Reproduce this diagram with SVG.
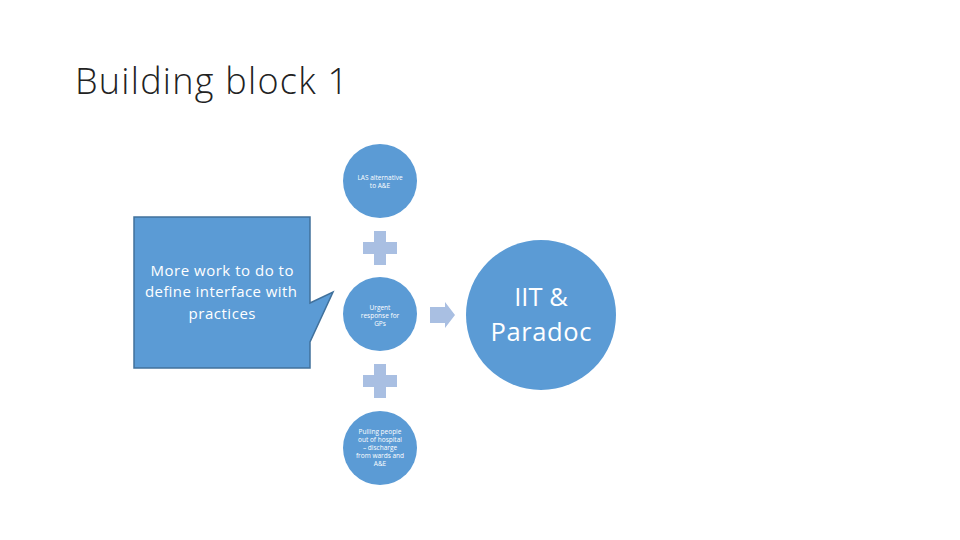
<svg xmlns="http://www.w3.org/2000/svg" width="960" height="540" viewBox="0 0 960 540">
<style>
.node{fill:#5B9BD5;}
.plus{fill:#A9BFE2;}
.t{font-family:"Open Sans","Liberation Sans",sans-serif;fill:#fff;text-anchor:middle;}
.s{font-size:6.5px;}
.c{font-size:15px;}
.b{font-size:25.5px;}
</style>
<rect width="960" height="540" fill="#fff"/>
<text x="75" y="94" font-family="'Open Sans','Liberation Sans',sans-serif" font-weight="300" font-size="36" fill="#222" textLength="273">Building block 1</text>
<g id="connectors">
<path class="plus" d="M374,231h12v11h11v12h-11v11h-12v-11h-11v-12h11z"/>
<path class="plus" d="M374,364h12v11h11v12h-11v11h-12v-11h-11v-12h11z"/>
<path class="plus" d="M430,307h15v-5l10,13l-10,13v-5h-15z"/>
</g>
<g id="n1">
<circle class="node" cx="380" cy="181" r="37"/>
<text class="t s" x="380" y="180">LAS alternative</text>
<text class="t s" x="380" y="188">to A&amp;E</text>
</g>
<g id="n2">
<circle class="node" cx="380" cy="314" r="37"/>
<text class="t s" x="380" y="310">Urgent</text>
<text class="t s" x="380" y="318">response for</text>
<text class="t s" x="380" y="326">GPs</text>
</g>
<g id="n3">
<circle class="node" cx="380" cy="448" r="37"/>
<text class="t s" x="380" y="434">Pulling people</text>
<text class="t s" x="380" y="442">out of hospital</text>
<text class="t s" x="380" y="450">– discharge</text>
<text class="t s" x="380" y="458">from wards and</text>
<text class="t s" x="380" y="466">A&amp;E</text>
</g>
<g id="n4">
<circle class="node" cx="541" cy="315" r="75"/>
<text class="t b" x="541" y="306">IIT &amp;</text>
<text class="t b" x="541" y="341" textLength="101">Paradoc</text>
</g>
<g id="callout">
<path d="M134,217H310V303L333,292L310,342V368H134Z" fill="#5B9BD5" stroke="#41719C" stroke-width="1.5"/>
<text class="t c" x="222" y="276" textLength="143">More work to do to</text>
<text class="t c" x="221" y="297" textLength="152">define interface with</text>
<text class="t c" x="222" y="319" textLength="67">practices</text>
</g>
</svg>
